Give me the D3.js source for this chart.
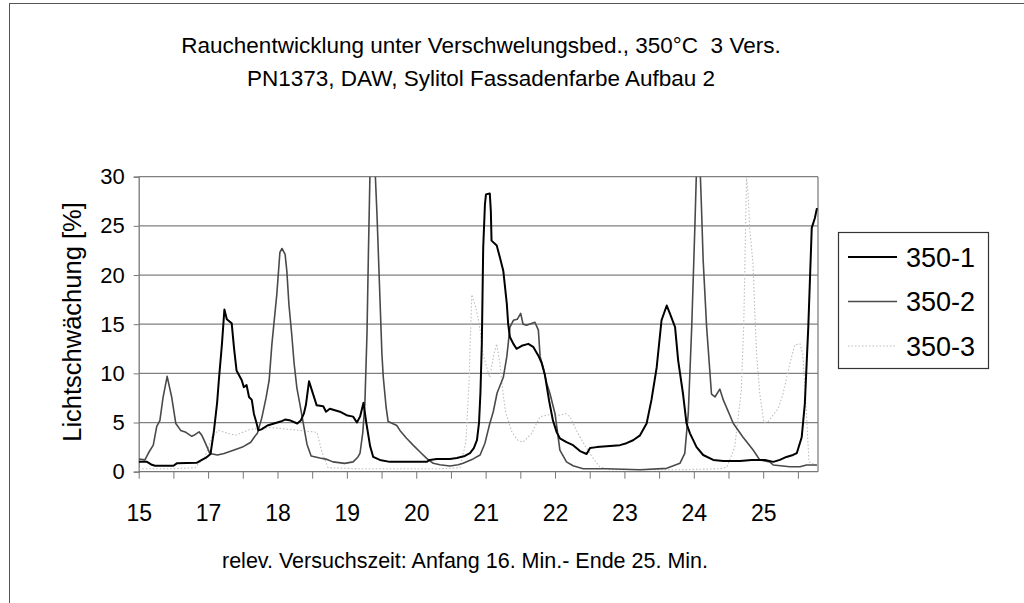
<!DOCTYPE html>
<html><head><meta charset="utf-8">
<script src="https://cdn.jsdelivr.net/npm/d3@7"></script>
<style>
body{margin:0;background:#fff}
svg{display:block}
text{font-family:"Liberation Sans",Arial,sans-serif;fill:#000}
</style>
</head><body>
<svg id="chart" width="1024" height="603"></svg>
<script>
// ---- data (x in category-tick units along the time axis, y in % light attenuation) ----
const titleLines = ["Rauchentwicklung unter Verschwelungsbed., 350°C  3 Vers.",
                    "PN1373, DAW, Sylitol Fassadenfarbe Aufbau 2"];
const yTitle = "Lichtschwächung [%]";
const xTitle = "relev. Versuchszeit: Anfang 16. Min.- Ende 25. Min.";
const seriesNames = ["350-1", "350-2", "350-3"];
const yTicks = [0, 5, 10, 15, 20, 25, 30];
const xTickCount = 20;
const xTickLabels = ["15", "17", "18", "19", "20", "21", "22", "23", "24", "25"];
const xTickLabelAt = [0, 2, 4, 6, 8, 10, 12, 14, 16, 18];

const s350_1 = [[0,1.0],[0.24,1.0],[0.38,0.7],[0.47,0.6],[1.0,0.6],[1.1,0.85],[1.67,0.9],[1.82,1.2],[1.93,1.4],[2.07,1.8],
 [2.17,4.2],[2.26,7],[2.31,9.3],[2.40,13],[2.47,16.5],[2.54,15.5],[2.68,15.1],[2.75,12.5],[2.82,10.3],[2.97,9.3],
 [3.03,8.6],[3.11,8.8],[3.18,7.6],[3.26,7.3],[3.32,5.9],[3.40,4.9],[3.45,4.2],[3.54,4.3],[3.71,4.7],[3.90,4.9],
 [4.09,5.1],[4.22,5.3],[4.38,5.2],[4.57,4.9],[4.67,5.2],[4.76,5.9],[4.82,6.8],[4.91,9.2],[4.99,8.3],[5.13,6.75],
 [5.32,6.65],[5.40,6.1],[5.51,6.4],[5.80,6.1],[5.99,5.75],[6.18,5.6],[6.29,5.0],[6.38,5.6],[6.48,7.0],[6.56,5.0],
 [6.67,2.6],[6.76,1.5],[6.95,1.2],[7.24,1.0],[8.30,1.0],[8.39,1.2],[8.59,1.3],[8.97,1.3],[9.17,1.4],[9.40,1.6],
 [9.55,1.9],[9.66,2.4],[9.75,3.2],[9.81,5.0],[9.85,8],[9.89,13],[9.93,22.8],[9.98,27.2],[10.01,28.2],[10.12,28.3],
 [10.15,26.5],[10.17,23.5],[10.32,23],[10.41,21.8],[10.51,20.4],[10.61,17.1],[10.65,15],[10.70,13.7],[10.80,13],[10.89,12.5],
 [11.04,12.8],[11.23,13],[11.37,12.7],[11.52,11.8],[11.61,11.1],[11.71,9.8],[11.83,7.2],[11.94,5.2],[12.05,4.0],[12.14,3.4],
 [12.33,3.0],[12.52,2.7],[12.72,2.1],[12.91,1.8],[13.01,2.4],[13.20,2.5],[13.49,2.6],[13.87,2.7],[14.06,2.9],[14.25,3.2],
 [14.45,3.7],[14.64,4.9],[14.78,7.3],[14.93,10.6],[15.07,15.4],[15.22,16.9],[15.31,16.1],[15.46,14.7],[15.55,11.3],[15.69,7.9],
 [15.79,4.9],[15.89,3.9],[16.08,2.5],[16.27,1.7],[16.56,1.2],[16.85,1.08],[17.33,1.08],[17.67,1.2],[18.05,1.2],[18.29,1.0],
 [18.48,1.2],[18.67,1.5],[18.86,1.7],[18.97,1.9],[19.11,3.5],[19.20,6.9],[19.30,14.7],[19.40,24.8],[19.49,25.8],[19.55,26.8]];

const s350_2 = [[0,1.3],[0.18,1.2],[0.28,1.9],[0.42,2.7],[0.52,4.6],[0.61,5.2],[0.70,7.5],[0.82,9.7],[0.95,7.6],[1.07,4.9],
 [1.21,4.2],[1.36,4.0],[1.53,3.6],[1.59,3.7],[1.74,4.05],[1.82,3.7],[1.91,3.0],[2.05,1.86],[2.27,1.7],[2.46,1.86],
 [2.75,2.2],[2.99,2.5],[3.23,3.0],[3.35,3.6],[3.42,3.9],[3.55,5.5],[3.67,7.5],[3.76,9.3],[3.84,13],[3.98,18],
 [4.07,22.3],[4.13,22.7],[4.22,22.1],[4.27,20.4],[4.33,17],[4.41,14],[4.48,11],[4.56,8.5],[4.65,6.8],[4.73,5.2],
 [4.85,2.8],[4.97,1.6],[5.22,1.4],[5.43,1.25],[5.60,1.0],[5.94,0.85],[6.18,1.0],[6.32,1.5],[6.38,1.9],[6.46,4],
 [6.52,7],[6.58,14],[6.62,22],[6.67,31],[6.81,31],[6.87,26],[6.95,18],[7.01,12],[7.05,9.6],[7.13,6.6],
 [7.19,5.1],[7.44,4.7],[7.53,4.2],[7.72,3.4],[7.91,2.7],[8.11,2.0],[8.30,1.35],[8.49,0.85],[8.68,0.7],[8.97,0.58],
 [9.21,0.7],[9.35,0.85],[9.64,1.3],[9.84,1.7],[9.98,2.9],[10.12,4.9],[10.22,6.1],[10.33,8.0],[10.51,9.6],[10.61,11.7],
 [10.65,13],[10.70,14.7],[10.80,15.4],[10.91,15.5],[11.01,16.1],[11.08,15.0],[11.18,14.9],[11.42,15.2],[11.52,14.4],[11.57,11.7],
 [11.66,10.6],[11.76,9.0],[11.85,8],[12.00,5.9],[12.14,2.2],[12.33,1.0],[12.52,0.6],[12.81,0.3],[13.49,0.3],[14.45,0.2],
 [15.22,0.34],[15.60,0.85],[15.74,1.86],[15.84,5.9],[15.94,14.7],[16.03,24.8],[16.08,31],[16.18,31],[16.22,27],[16.27,21.5],
 [16.37,14.7],[16.51,7.9],[16.61,7.6],[16.75,8.4],[16.85,7.3],[17.14,4.9],[17.42,3.5],[17.71,2.2],[17.90,1.2],[18.19,1.0],
 [18.29,0.68],[18.77,0.5],[19.06,0.5],[19.25,0.68],[19.55,0.68]];

const s350_3 = [[0,0.3],[0.90,0.3],[1.62,0.4],[1.91,1.5],[2.11,3.5],[2.29,4.2],[2.78,3.7],[3.21,4.3],[3.78,4.5],[4.65,4.2],
 [5.14,4.0],[5.28,2.0],[5.46,0.4],[6.38,0.3],[7.53,0.3],[8.68,0.3],[9.26,0.4],[9.43,3],[9.52,9],[9.60,18],
 [9.69,17],[9.78,15.7],[9.84,14.4],[9.92,12],[10.04,10.5],[10.12,9.6],[10.24,12],[10.32,13],[10.41,11],[10.50,8],
 [10.58,6],[10.76,4],[10.93,3.2],[11.07,3.0],[11.19,3.4],[11.33,3.9],[11.42,4.6],[11.57,5.6],[11.85,5.8],[12.14,5.75],
 [12.31,5.9],[12.43,5.6],[12.66,3.9],[12.89,2.5],[13.10,1.35],[13.29,0.5],[13.58,0.2],[15.60,0.2],[16.75,0.3],[16.95,0.45],
 [17.18,2.5],[17.37,8.3],[17.44,15],[17.52,30],[17.57,28],[17.61,24.8],[17.71,21],[17.76,16],[17.81,12],[17.90,8],
 [18.02,5],[18.14,5.1],[18.43,6.4],[18.57,7.9],[18.77,11],[18.91,12.9],[19.06,13],[19.14,12],[19.23,7],[19.32,1],[19.58,0.5]];

const allSeries = [s350_1, s350_2, s350_3];
const seriesStyle = [
  {stroke:"#000", width:2.0, dash:null},
  {stroke:"#4a4a4a", width:1.6, dash:null},
  {stroke:"#bdbdbd", width:1.1, dash:"1.5,2"}
];

// ---- layout ----
const svg = d3.select("#chart");
const plot = {left:138.7, right:818, top:176.7, bottom:471.7};
const x = d3.scaleLinear().domain([0, 19.58]).range([plot.left, plot.right]);
const y = d3.scaleLinear().domain([0, 30]).range([plot.bottom, plot.top]);
const FONT = '"Liberation Sans",Arial,sans-serif';

// outer chart frame (only top & left edges fall inside the picture)
svg.append("rect").attr("x",9.5).attr("y",3.5).attr("width",1100).attr("height",700)
  .attr("fill","none").attr("stroke","#555").attr("stroke-width",1);

// title
svg.selectAll("text.title").data(titleLines).enter().append("text")
  .attr("class","title").attr("x",481).attr("y",(d,i)=>53+i*33)
  .attr("text-anchor","middle").style("font-size","22.5px").style("white-space","pre")
  .attr("xml:space","preserve").text(d=>d);

// gridlines
svg.append("g").selectAll("line").data(yTicks.filter(v=>v>0)).enter().append("line")
  .attr("x1",plot.left).attr("x2",plot.right).attr("y1",d=>y(d)).attr("y2",d=>y(d))
  .attr("stroke","#808080").attr("stroke-width",1.3);
// right border of plot area
svg.append("line").attr("x1",plot.right).attr("x2",plot.right).attr("y1",plot.top).attr("y2",plot.bottom)
  .attr("stroke","#808080").attr("stroke-width",1.3);

// y axis
const yAxis = d3.axisLeft(y).tickValues(yTicks).tickSize(5).tickPadding(9);
const gy = svg.append("g").attr("transform",`translate(${plot.left},0)`).call(yAxis);
gy.select(".domain").attr("stroke","#777").attr("stroke-width",1.3);
gy.selectAll(".tick line").attr("stroke","#777");
gy.selectAll(".tick text").style("font-size","22px").style("font-family",FONT).attr("fill","#000");

// x axis: ticks at every category step, labels at every second tick
const labelMap = new Map(xTickLabelAt.map((t,i)=>[t,xTickLabels[i]]));
const xAxis = d3.axisBottom(x).tickValues(d3.range(xTickCount)).tickSize(7).tickPadding(26)
  .tickFormat(d=>labelMap.has(d)?labelMap.get(d):"");
const gx = svg.append("g").attr("transform",`translate(0,${plot.bottom})`).call(xAxis);
gx.select(".domain").attr("stroke","#777").attr("stroke-width",1.3).attr("d",`M${plot.left},0H${plot.right}`);
gx.selectAll(".tick line").attr("stroke","#777");
gx.selectAll(".tick text").style("font-size","23px").style("font-family",FONT).attr("fill","#000");

// axis titles
svg.append("text").attr("transform","translate(81,322) rotate(-90)").attr("text-anchor","middle")
  .style("font-size","25.5px").text(yTitle);
svg.append("text").attr("x",465).attr("y",568).attr("text-anchor","middle")
  .style("font-size","21.5px").text(xTitle);

// lines
svg.append("clipPath").attr("id","clip").append("rect")
  .attr("x",plot.left).attr("y",plot.top).attr("width",plot.right-plot.left).attr("height",plot.bottom-plot.top);
const line = d3.line().x(d=>x(d[0])).y(d=>y(d[1]));
const gl = svg.append("g").attr("clip-path","url(#clip)");
[2,1,0].forEach(i=>{
  gl.append("path").datum(allSeries[i]).attr("d",line).attr("fill","none")
    .attr("stroke",seriesStyle[i].stroke).attr("stroke-width",seriesStyle[i].width)
    .attr("stroke-dasharray",seriesStyle[i].dash).attr("stroke-linejoin","round");
});

// legend
const lg = svg.append("g");
lg.append("rect").attr("x",838.5).attr("y",232.5).attr("width",150).attr("height",136)
  .attr("fill","#fff").attr("stroke","#333").attr("stroke-width",1.2);
seriesNames.forEach((n,i)=>{
  const yy = 257 + i*44.5;
  lg.append("line").attr("x1",848).attr("x2",897).attr("y1",yy).attr("y2",yy)
    .attr("stroke",seriesStyle[i].stroke).attr("stroke-width",seriesStyle[i].width)
    .attr("stroke-dasharray",seriesStyle[i].dash);
  lg.append("text").attr("x",906).attr("y",yy+9.5).style("font-size","27px").text(n);
});
</script>
</body></html>
